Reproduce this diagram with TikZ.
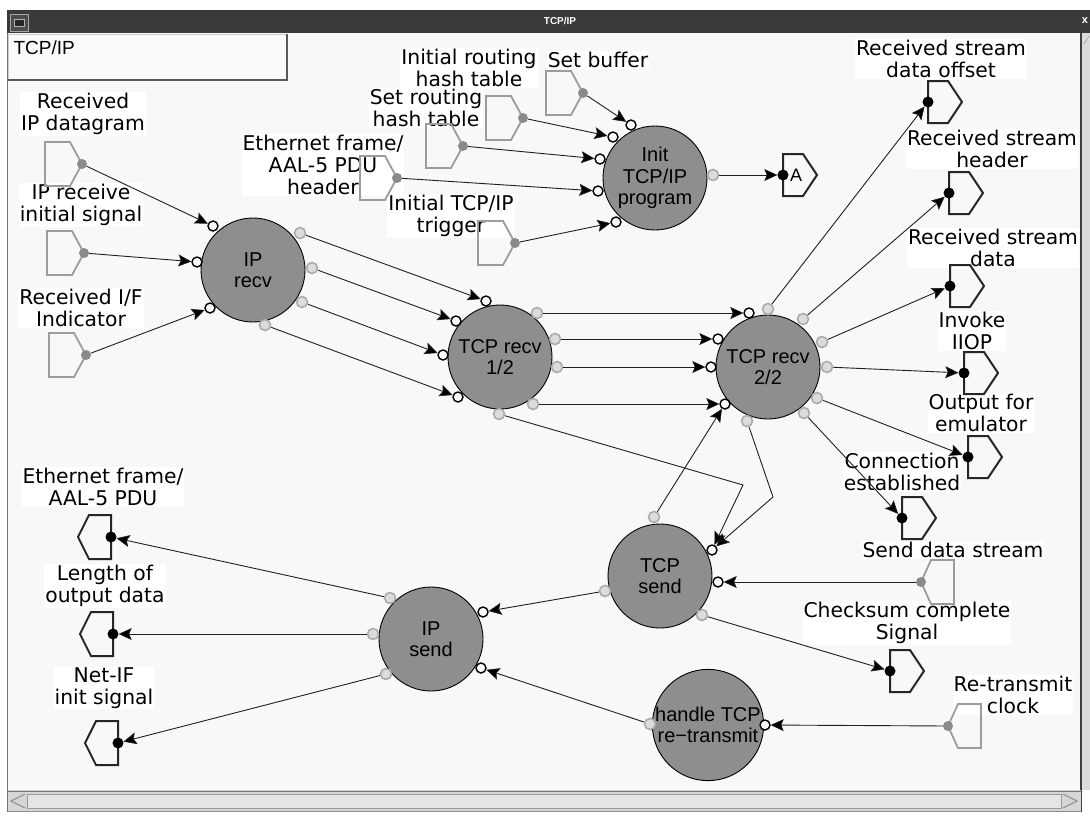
\documentclass[tikz,border=0pt]{standalone}
\usepackage{fontspec}
\setmainfont{DejaVu Sans}
\newfontfamily\procfont{Liberation Sans}
\usetikzlibrary{arrows.meta}

\definecolor{canvas}{HTML}{F8F8F8}
\definecolor{procfill}{HTML}{8E8E8E}
\definecolor{srcgray}{HTML}{9C9C9C}
\definecolor{srcdotc}{HTML}{8A8A8A}
\definecolor{portgray}{HTML}{ABABAB}
\definecolor{portfill}{HTML}{DCDCDC}
\definecolor{titlebar}{HTML}{3A3A3A}
\definecolor{wire}{HTML}{202020}

\tikzset{
  proc/.style={circle, draw=black, line width=0.9pt, fill=procfill, minimum size=104pt,
    inner sep=0pt, align=center, font=\procfont\fontsize{20}{21.5}\selectfont},
  inport/.style={circle, draw=black, line width=1.4pt, fill=canvas, minimum size=10pt, inner sep=0pt},
  outport/.style={circle, draw=portgray, line width=1.6pt, fill=portfill, minimum size=11pt, inner sep=0pt},
  srcdot/.style={circle, fill=srcdotc, minimum size=10pt, inner sep=0pt},
  sinkdot/.style={circle, fill=black, minimum size=11pt, inner sep=0pt},
  srcshape/.style={draw=srcgray, line width=1.8pt},
  sinkshape/.style={draw=black!85, line width=2pt},
  lbl/.style={fill=white, inner sep=1pt, align=center, font=\fontsize{20.3}{21.7}\selectfont},
  flow/.style={draw=wire, line width=0.9pt,
    -{Stealth[length=13pt,width=12pt,inset=2.5pt,line width=0.6pt,fill=black]}},
  % port housings: dot position is the pic origin
  srcR/.pic={\path[srcshape] (-37,-22) -- (-12,-22) -- (0,0) -- (-12,22) -- (-37,22) -- cycle;},
  srcL/.pic={\path[srcshape] (0,0) -- (10,-22) -- (33,-22) -- (33,22) -- (10,22) -- cycle;},
  sinkR/.pic={\path[sinkshape] (0,-21) -- (20,-21) -- (34,0) -- (20,21) -- (0,21) -- cycle;},
  sinkL/.pic={\path[sinkshape] (0,-22) -- (-22,-22) -- (-33,0) -- (-22,22) -- (0,22) -- cycle;},
}

\begin{document}
\begin{tikzpicture}[x=1pt, y=-1pt]
\useasboundingbox (0,0) rectangle (1090,815);

% ---------- window frame ----------
\fill[white] (0,0) rectangle (1090,815);
\fill[titlebar] (7,10) rectangle (1090,33);
\draw[black!35, line width=1pt, fill=black!70] (10,14) rectangle (28,31);
\draw[black!30, fill=black!85] (14,19) rectangle (24,26);
\node[text=white, font=\procfont\bfseries\fontsize{10}{10}\selectfont] (wintitle) at (560,21) {TCP/IP};
\node[text=white, font=\procfont\bfseries\fontsize{11}{11}\selectfont] (winclose) at (1085,21) {x};
\fill[canvas] (7,33) rectangle (1080,790);
\draw[black!55, line width=1.2pt] (7.6,33) -- (7.6,812);
% vertical scrollbar
\fill[black!14] (1080,33) rectangle (1090,790);
\draw[black!75, line width=1.4pt] (1081,33) -- (1081,812);
\draw[black!45] (1084,44) -- (1089,36);
% horizontal scrollbar
\fill[black!16] (8,790) rectangle (1081,812);
\draw[black!55, line width=1pt] (8,791) -- (1081,791);
\draw[black!40, fill=black!10] (27,794) rectangle (1061,808);
\draw[black!45, line width=1pt] (25,794) -- (11,801) -- (25,808);
\draw[black!45, line width=1pt] (1063,794) -- (1077,801) -- (1063,808);
\draw[black!45, line width=1pt] (8,811) -- (1081,811);

% ---------- title panel ----------
\fill[white!98!black] (8,34) rectangle (287,80);
\draw[black!20] (8,80) -- (8,34) -- (287,34);
\draw[black!65, line width=1.2pt] (8,80) -- (287,80) -- (287,34);
\node[anchor=west, font=\procfont\fontsize{19}{19}\selectfont] (paneltitle) at (10,48) {TCP/IP};

% ---------- labels ----------
\node[lbl] (l-ipdg)   at (83,114)  {Received\\IP datagram};
\node[lbl] (l-ipinit) at (81,205)  {IP receive\\initial signal};
\node[lbl] (l-ifind)  at (81,308)  {Received I/F\\Indicator};
\node[lbl] (l-rthash) at (469,68)  {Initial routing\\hash table};
\node[lbl] (l-setbuf) at (598,60)  {Set buffer};
\node[lbl] (l-setrt)  at (426,108) {Set routing\\hash table};
\node[lbl] (l-ethhdr) at (323,165) {Ethernet frame/\\AAL-5 PDU\\header};
\node[lbl] (l-trig)   at (451,216) {Initial TCP/IP\\trigger};
\node[lbl] (l-offset) at (941,59)  {Received stream\\data offset};
\node[lbl] (l-header) at (992,149) {Received stream\\header};
\node[lbl] (l-data)   at (993,248) {Received stream\\data};
\node[lbl] (l-iiop)   at (972,331) {Invoke\\IIOP};
\node[lbl] (l-emul)   at (981,413) {Output for\\emulator};
\node[lbl] (l-conn)   at (902,472) {Connection\\established};
\node[lbl] (l-cksum)  at (907,623) {Checksum complete\\Signal};
\node[lbl] (l-rtclk)  at (1013,695) {Re-transmit\\clock};
\node[lbl] (l-eth)    at (103,487) {Ethernet frame/\\AAL-5 PDU};
\node[lbl] (l-len)    at (105,586) {Length of\\output data};
\node[lbl] (l-netif)  at (104,688) {Net-IF\\init signal};

% ---------- housings of external ports ----------
\pic at (82,164) {srcR};
\pic at (84,253) {srcR};
\pic at (86,355) {srcR};
\pic at (523,118) {srcR};
\pic at (583,93) {srcR};
\pic at (463,146) {srcR};
\pic at (397,178) {srcR};
\pic at (515,243) {srcR};
\pic at (921,582) {srcL};
\pic at (948,726) {srcL};

\node[font=\procfont\fontsize{18}{18}\selectfont] (atag) at (796,175) {A};
\pic at (783,175) {sinkR};
\pic at (928,102) {sinkR};
\pic at (949,193) {sinkR};
\pic at (950,286) {sinkR};
\pic at (964,373) {sinkR};
\pic at (968,457) {sinkR};
\pic at (902,518) {sinkR};
\pic at (890,671) {sinkR};
\pic at (111,537) {sinkL};
\pic at (113,634) {sinkL};
\pic at (118,743) {sinkL};

\node[lbl] (l-sendds) at (953,550) {Send data stream};

% ---------- port dots ----------
\node[srcdot] (s-ipdg)   at (82,164) {};
\node[srcdot] (s-ipinit) at (84,253) {};
\node[srcdot] (s-ifind)  at (86,355) {};
\node[srcdot] (s-rthash) at (523,118) {};
\node[srcdot] (s-setbuf) at (583,93) {};
\node[srcdot] (s-setrt)  at (463,146) {};
\node[srcdot] (s-ethhdr) at (397,178) {};
\node[srcdot] (s-trig)   at (515,243) {};
\node[srcdot] (s-sendds) at (921,582) {};
\node[srcdot] (s-rtclk)  at (948,726) {};

\node[sinkdot] (k-A)      at (783,175) {};
\node[sinkdot] (k-offset) at (928,102) {};
\node[sinkdot] (k-header) at (949,193) {};
\node[sinkdot] (k-data)   at (950,286) {};
\node[sinkdot] (k-iiop)   at (964,373) {};
\node[sinkdot] (k-emul)   at (968,457) {};
\node[sinkdot] (k-conn)   at (902,518) {};
\node[sinkdot] (k-cksum)  at (890,671) {};
\node[sinkdot] (k-eth)    at (111,537) {};
\node[sinkdot] (k-len)    at (113,634) {};
\node[sinkdot] (k-netif)  at (118,743) {};

% ---------- processes ----------
\node[proc] (iprecv) at (253,270) {IP\\recv};
\node[proc] (tcpr1)  at (500,357) {TCP recv\\1/2};
\node[proc] (tcpr2)  at (768,367) {TCP recv\\2/2};
\node[proc] (init)   at (655,178) {Init\\TCP/IP\\program};
\node[proc] (tcps)   at (660,576) {TCP\\send};
\node[proc] (ipsend) at (431,639) {IP\\send};
\node[proc] (rtx)    at (708,725) {handle TCP\\re−transmit};

% ---------- process ports ----------
\node[inport]  (iprecv-i1) at (213,226) {};
\node[inport]  (iprecv-i2) at (197,262) {};
\node[inport]  (iprecv-i3) at (210,308) {};
\node[outport] (iprecv-o1) at (300,233) {};
\node[outport] (iprecv-o2) at (312,268) {};
\node[outport] (iprecv-o3) at (302,302) {};
\node[outport] (iprecv-o4) at (265,325) {};

\node[inport]  (tcpr1-i1) at (486,301) {};
\node[inport]  (tcpr1-i2) at (456,321) {};
\node[inport]  (tcpr1-i3) at (443,355) {};
\node[inport]  (tcpr1-i4) at (458,397) {};
\node[outport] (tcpr1-o1) at (537,313) {};
\node[outport] (tcpr1-o2) at (555,339) {};
\node[outport] (tcpr1-o3) at (557,367) {};
\node[outport] (tcpr1-o4) at (533,404) {};
\node[outport] (tcpr1-o5) at (499,414) {};

\node[inport]  (tcpr2-i1) at (749,313) {};
\node[inport]  (tcpr2-i2) at (718,339) {};
\node[inport]  (tcpr2-i3) at (711,367) {};
\node[inport]  (tcpr2-i4) at (725,404) {};
\node[outport] (tcpr2-o1) at (768,309) {};
\node[outport] (tcpr2-o2) at (803,319) {};
\node[outport] (tcpr2-o3) at (822,342) {};
\node[outport] (tcpr2-o4) at (827,367) {};
\node[outport] (tcpr2-o5) at (817,398) {};
\node[outport] (tcpr2-o6) at (804,413) {};
\node[outport] (tcpr2-o7) at (747,421) {};

\node[inport]  (init-i1) at (631,125) {};
\node[inport]  (init-i2) at (613,137) {};
\node[inport]  (init-i3) at (600,159) {};
\node[inport]  (init-i4) at (598,191) {};
\node[inport]  (init-i5) at (616,222) {};
\node[outport] (init-o)  at (713,175) {};

\node[inport]  (tcps-i1) at (712,550) {};
\node[inport]  (tcps-i2) at (718,582) {};
\node[outport] (tcps-o1) at (654,517) {};
\node[outport] (tcps-o2) at (605,591) {};
\node[outport] (tcps-o3) at (702,615) {};

\node[inport]  (ipsend-i1) at (483,612) {};
\node[inport]  (ipsend-i2) at (481,668) {};
\node[outport] (ipsend-o1) at (390,598) {};
\node[outport] (ipsend-o2) at (373,634) {};
\node[outport] (ipsend-o3) at (386,674) {};

\node[inport]  (rtx-i) at (765,725) {};
\node[outport] (rtx-o) at (650,724) {};

% ---------- connectors ----------
\coordinate (bendA) at (743,485);
\coordinate (bendB) at (773,497);

\draw[flow] (s-ipdg) -- (iprecv-i1);
\draw[flow] (s-ipinit) -- (iprecv-i2);
\draw[flow] (s-ifind) -- (iprecv-i3);

\draw[flow] (iprecv-o1) -- (tcpr1-i1);
\draw[flow] (iprecv-o2) -- (tcpr1-i2);
\draw[flow] (iprecv-o3) -- (tcpr1-i3);
\draw[flow] (iprecv-o4) -- (tcpr1-i4);

\draw[flow] (tcpr1-o1) -- (tcpr2-i1);
\draw[flow] (tcpr1-o2) -- (tcpr2-i2);
\draw[flow] (tcpr1-o3) -- (tcpr2-i3);
\draw[flow] (tcpr1-o4) -- (tcpr2-i4);
\draw[flow] (tcpr1-o5) -- (bendA) -- (tcps-i1);

\draw[flow] (tcpr2-o1) -- (k-offset);
\draw[flow] (tcpr2-o2) -- (k-header);
\draw[flow] (tcpr2-o3) -- (k-data);
\draw[flow] (tcpr2-o4) -- (k-iiop);
\draw[flow] (tcpr2-o5) -- (k-emul);
\draw[flow] (tcpr2-o6) -- (k-conn);
\draw[flow] (tcpr2-o7) -- (bendB) -- (tcps-i1);

\draw[flow] (s-setbuf) -- (init-i1);
\draw[flow] (s-rthash) -- (init-i2);
\draw[flow] (s-setrt) -- (init-i3);
\draw[flow] (s-ethhdr) -- (init-i4);
\draw[flow] (s-trig) -- (init-i5);
\draw[flow] (init-o) -- (k-A);

\draw[flow] (tcps-o1) -- (tcpr2-i4);
\draw[flow] (s-sendds) -- (tcps-i2);
\draw[flow] (tcps-o2) -- (ipsend-i1);
\draw[flow] (tcps-o3) -- (k-cksum);

\draw[flow] (s-rtclk) -- (rtx-i);
\draw[flow] (rtx-o) -- (ipsend-i2);

\draw[flow] (ipsend-o1) -- (k-eth);
\draw[flow] (ipsend-o2) -- (k-len);
\draw[flow] (ipsend-o3) -- (k-netif);
\end{tikzpicture}
\end{document}
